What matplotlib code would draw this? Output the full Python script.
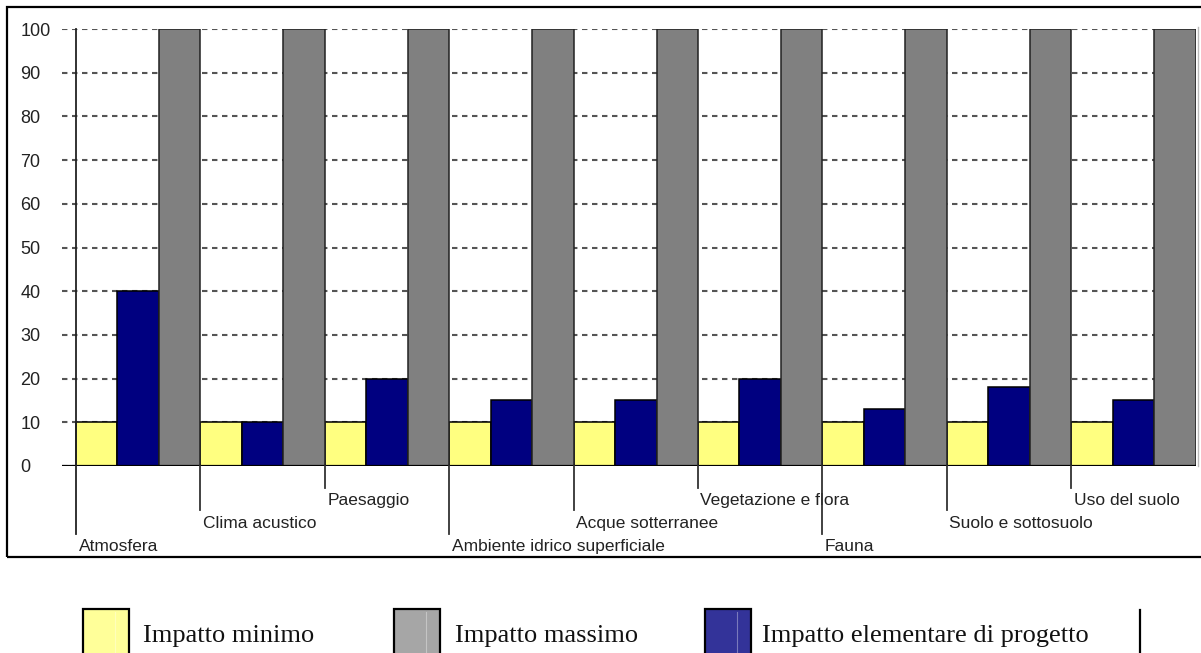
import matplotlib
matplotlib.use("Agg")
import matplotlib.pyplot as plt
from matplotlib.patches import Rectangle
from matplotlib.lines import Line2D

# Environmental components and impact scores
categories = ["Atmosfera", "Clima acustico", "Paesaggio",
              "Ambiente idrico superficiale", "Acque sotterranee",
              "Vegetazione e flora", "Fauna", "Suolo e sottosuolo",
              "Uso del suolo"]
impatto_minimo = [10, 10, 10, 10, 10, 10, 10, 10, 10]
impatto_progetto = [40, 10, 20, 15, 15, 20, 13, 18, 15]
impatto_massimo = [100, 100, 100, 100, 100, 100, 100, 100, 100]
y_ticks = [0, 10, 20, 30, 40, 50, 60, 70, 80, 90, 100]
legend_labels = ["Impatto minimo", "Impatto massimo",
                 "Impatto elementare di progetto"]

# staggered depth of each category label (1 = nearest the axis)
label_level = [3, 2, 1, 3, 2, 1, 3, 2, 1]

W, H = 1201, 653
fig = plt.figure(figsize=(W / 100, H / 100), dpi=100)
fig.patch.set_facecolor("white")

# axes geometry in pixels
px_per_cat = 124.4
ax_left_px = 62
x0 = -0.5 - (76 - ax_left_px) / px_per_cat
x1 = 8.5
ax_w_px = (x1 - x0) * px_per_cat
y_top_px, y_bot_px = 29, 466
ax = fig.add_axes([ax_left_px / W, 1 - y_bot_px / H,
                   ax_w_px / W, (y_bot_px - y_top_px) / H])
ax.set_xlim(x0, x1)
ax.set_ylim(0, 100)
ax.set_facecolor("white")
for s in ax.spines.values():
    s.set_visible(False)

sans = ["Liberation Sans", "DejaVu Sans"]

# bars: yellow, navy, gray across each category
bw = 1 / 3
xs = list(range(len(categories)))
ax.bar([x - bw for x in xs], impatto_minimo, width=bw, color="#ffff80",
       edgecolor="black", linewidth=1.1, zorder=3)
ax.bar(xs, impatto_progetto, width=bw, color="#000080",
       edgecolor="black", linewidth=1.1, zorder=3)
ax.bar([x + bw for x in xs], impatto_massimo, width=bw, color="#808080",
       edgecolor="#222222", linewidth=1.1, zorder=3)

# dotted horizontal grid
ax.set_yticks(y_ticks)
ax.set_yticklabels([str(v) for v in y_ticks])
ax.yaxis.grid(True, color="#555555", linewidth=1.5,
              linestyle=(0, (2.6, 2.2)), zorder=1)
ax.tick_params(axis="y", length=0, pad=30, labelsize=13,
               labelcolor="#222222")
for lab in ax.get_yticklabels():
    lab.set_horizontalalignment("left")
    lab.set_fontfamily(sans)
ax.set_xticks([])

# zero line
ax.axhline(0, color="black", linewidth=1.6, zorder=4)

# y axis / first category divider
ax.add_line(Line2D([-0.5, -0.5], [100, -15.5], color="#222222",
                   linewidth=1.3, zorder=5, clip_on=False))
# light right border of the plot area
ax.add_line(Line2D([x1 + 0.02, x1 + 0.02], [100.5, 0], color="#bbbbbb",
                   linewidth=1.0, zorder=5, clip_on=False))

# staggered category labels with leader lines
line_end = {1: -5.0, 2: -10.0, 3: -15.5}
baseline = {1: -9.0, 2: -14.3, 3: -19.5}
for i, name in enumerate(categories):
    lv = label_level[i]
    xd = i - 0.5
    if i > 0:
        ax.add_line(Line2D([xd, xd], [0, line_end[lv]], color="#333333",
                           linewidth=1.3, zorder=5, clip_on=False))
    ax.text(xd + 0.02, baseline[lv], name, ha="left", va="baseline",
            fontsize=12.5, family=sans, color="#222222", clip_on=False)

# outer frame
fig.add_artist(Rectangle((7 / W, 1 - 557 / H), 1.2, (557 - 7) / H,
                         transform=fig.transFigure, fill=False,
                         edgecolor="black", linewidth=1.6))

# legend row
swatches = [("#ffff99", 83), ("#a6a6a6", 394), ("#333399", 705)]
text_x = [143, 455, 762]
sw_top = 609
for (col, sx), lab, tx in zip(swatches, legend_labels, text_x):
    fig.add_artist(Rectangle((sx / W, 1 - (H + 5) / H), 46 / W,
                             (H + 5 - sw_top) / H,
                             transform=fig.transFigure, facecolor=col,
                             edgecolor="black", linewidth=1.6))
    fig.add_artist(Line2D([(sx + 32) / W] * 2,
                          [1 - (sw_top + 3) / H, 0],
                          transform=fig.transFigure,
                          color="white", alpha=0.35, linewidth=0.8))
    fig.text(tx / W, 1 - 642 / H, lab, ha="left", va="baseline",
             fontsize=19, family=["Liberation Serif", "DejaVu Serif"],
             color="#111111")

fig.add_artist(Line2D([1140 / W] * 2, [1 - 610 / H, 0],
                      transform=fig.transFigure, color="black",
                      linewidth=1.6))

fig.savefig("out.png", dpi=100, facecolor="white")
